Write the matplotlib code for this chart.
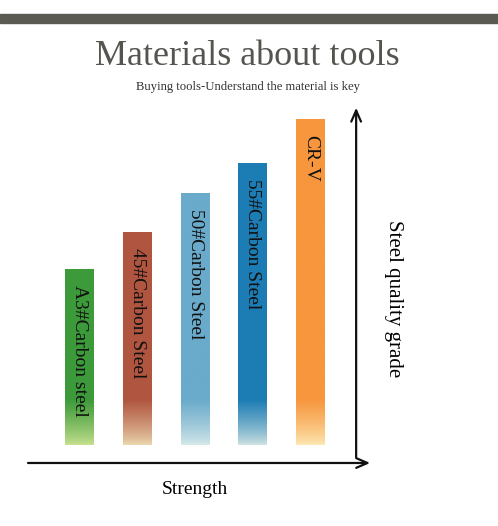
import numpy as np
import matplotlib
matplotlib.use("Agg")
from matplotlib import pyplot as plt
from matplotlib.colors import to_rgb
from matplotlib.patches import Rectangle

# datos del grafico
materials = ["A3#Carbon steel", "45#Carbon Steel", "50#Carbon Steel", "55#Carbon Steel", "CR-V"]
grade = [3.5, 4.24, 5.02, 5.62, 6.5]
top_colors = ["#3d9a3a", "#b0553f", "#6aaacb", "#1c7cb4", "#f7963d"]
base_colors = ["#c8e290", "#ecd8b0", "#d6e9ea", "#cfe3e3", "#fde8b2"]

title = "Materials about tools"
subtitle = "Buying tools-Understand the material is key"
xlabel = "Strength"
ylabel = "Steel quality grade"

plt.rcParams["font.family"] = ["Liberation Serif", "DejaVu Serif"]

fig = plt.figure(figsize=(4.98, 5.26), dpi=100)
fig.patch.set_facecolor("white")

# barra gris superior
fig.patches.append(Rectangle((0, 1 - 23 / 526), 1, 9 / 526, transform=fig.transFigure,
                             color="#5a5a52", zorder=0))
fig.text(0.497, 0.893, title, ha="center", va="center", fontsize=26, color="#555550")
fig.text(0.498, 0.834, subtitle, ha="center", va="center", fontsize=9.1, color="#333333")

ax = fig.add_axes([0.0437, 0.116, 0.6958, 0.713])
ax.set_xlim(-1, 5)
ax.set_ylim(-0.4, 7.1)
ax.axis("off")

w = 0.25
fade = 0.9
for i, (name, h) in enumerate(zip(materials, grade)):
    # gradiente vertical en la base de cada barra
    n = 200
    yy = np.linspace(0, h, n)
    t = np.clip(yy / fade, 0, 1)[:, None] ** 0.8
    c1 = np.array(to_rgb(top_colors[i]))
    c0 = np.array(to_rgb(base_colors[i]))
    img = (c0 * (1 - t) + c1 * t)[:, None, :]
    ax.imshow(img, extent=[i - w, i + w, 0, h], origin="lower", aspect="auto",
              interpolation="bilinear", zorder=2)
    ax.text(i, h - 0.3, name, rotation=-90, ha="center", va="top",
            fontsize=14, color="#111111", zorder=3)

# flechas de los ejes
arrow = dict(arrowstyle="->,head_length=0.8,head_width=0.35", lw=1.6, color="#111111")
ax.annotate("", xy=(5.08, -0.36), xytext=(-0.94, -0.36), arrowprops=arrow,
            annotation_clip=False)
ax.annotate("", xy=(4.79, 6.8), xytext=(4.79, -0.3), arrowprops=arrow,
            annotation_clip=False)

fig.text(195 / 498, 1 - 489 / 526, xlabel, ha="center", va="center", fontsize=14)
fig.text(393 / 498, 1 - 299 / 526, ylabel, ha="center", va="center", rotation=-90, fontsize=15)

plt.savefig("out.png", dpi=100)
